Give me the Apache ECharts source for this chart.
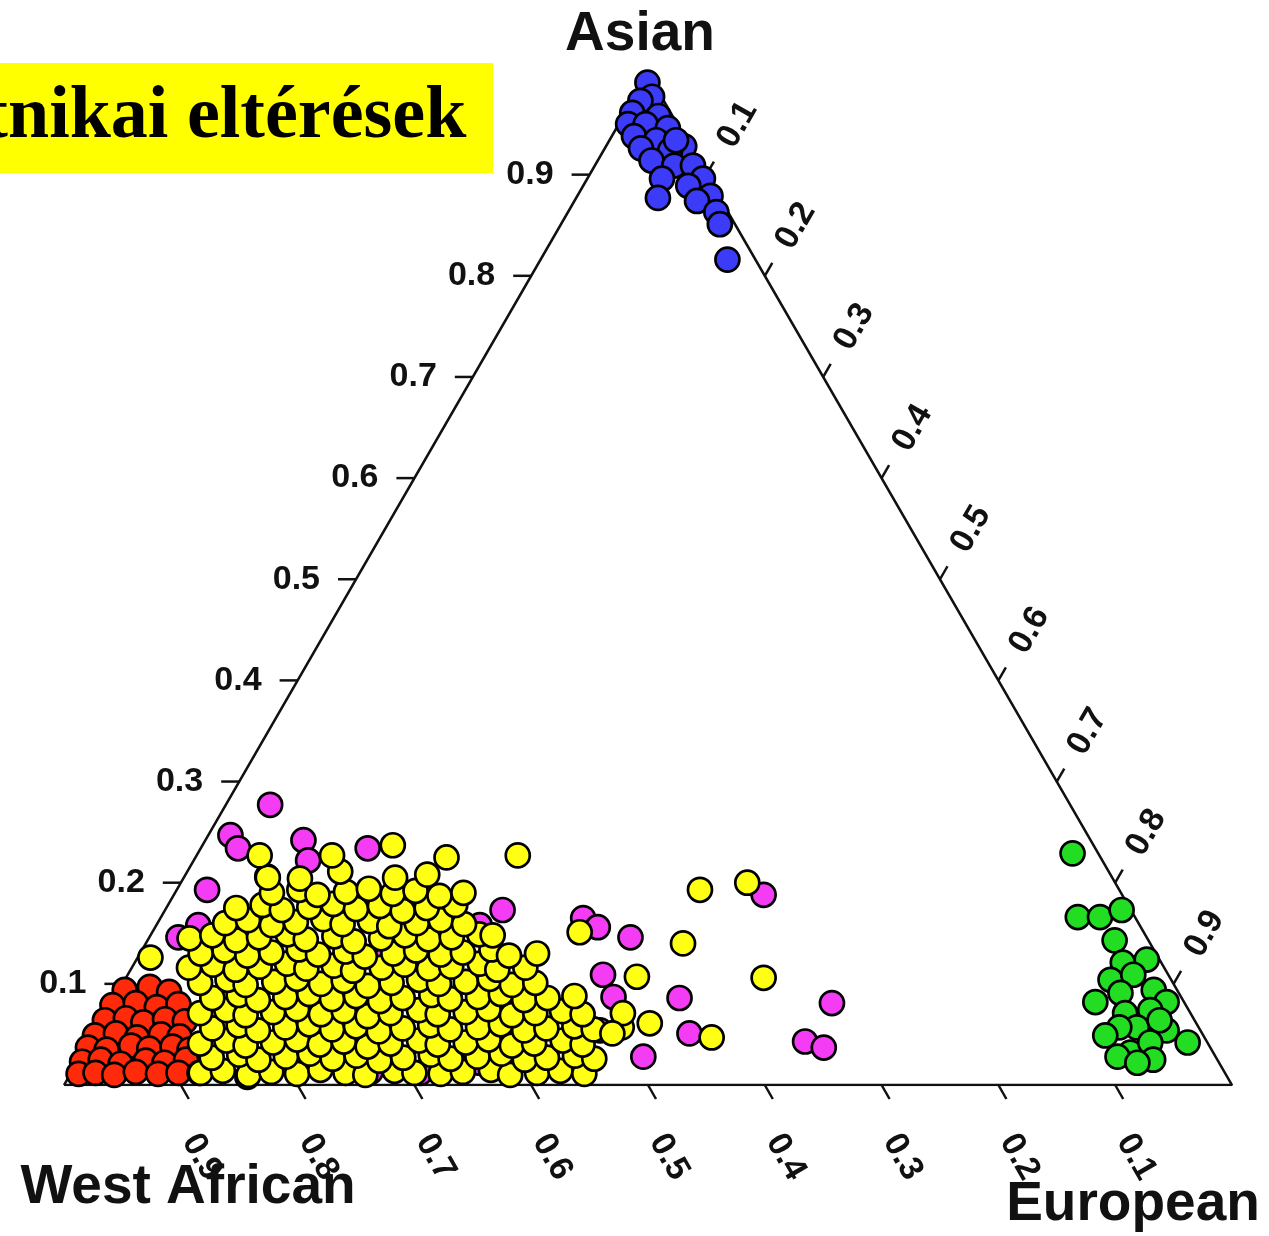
<!DOCTYPE html>
<html>
<head>
<meta charset="utf-8">
<script src="https://cdn.jsdelivr.net/npm/echarts@6/dist/echarts.min.js"></script>
<style>
  html, body { margin: 0; padding: 0; background: #ffffff; }
  #chart { width: 1269px; height: 1236px; }
</style>
</head>
<body>
<div id="chart"></div>
<script>
// Tick values on the three ternary axes
const asianTicks = [0.1, 0.2, 0.3, 0.4, 0.5, 0.6, 0.7, 0.8, 0.9];
const westAfricanTicks = [0.9, 0.8, 0.7, 0.6, 0.5, 0.4, 0.3, 0.2, 0.1];
const europeanTicks = [0.1, 0.2, 0.3, 0.4, 0.5, 0.6, 0.7, 0.8, 0.9];

// Each sample: [Asian share, European share]; the West African share is the remainder.
const blueSamples = [
  [0.991,0.004],[0.977,0.015],[0.973,0.007],[0.961,0.006],[0.958,0.030],[0.950,0.008],
  [0.950,0.023],[0.946,0.044],[0.938,0.019],[0.934,0.040],[0.926,0.031],[0.928,0.067],
  [0.924,0.057],[0.934,0.057],[0.914,0.046],[0.909,0.068],[0.909,0.084],[0.896,0.064],
  [0.896,0.099],[0.889,0.090],[0.877,0.070],[0.879,0.114],[0.874,0.105],[0.863,0.127],
  [0.851,0.136],[0.816,0.160]
];

const redSamples = [
  [0.094,0.005],[0.097,0.025],[0.092,0.044],
  [0.079,0.002],[0.081,0.021],[0.077,0.041],[0.080,0.058],
  [0.064,0.003],[0.066,0.020],[0.062,0.037],[0.065,0.054],[0.063,0.072],
  [0.049,0.002],[0.051,0.019],[0.047,0.039],[0.050,0.058],[0.048,0.075],
  [0.037,0.002],[0.035,0.019],[0.039,0.038],[0.036,0.055],[0.038,0.074],[0.035,0.090],
  [0.023,0.004],[0.025,0.019],[0.021,0.038],[0.024,0.058],[0.022,0.075],[0.025,0.092],
  [0.011,0.007],[0.012,0.021],[0.010,0.038],[0.013,0.055],[0.011,0.075],[0.012,0.092]
];

const magentaSamples = [
  [0.277,0.038],[0.247,0.019],[0.234,0.032],[0.242,0.084],[0.222,0.098],[0.206,0.071],
  [0.193,0.026],[0.158,0.036],[0.146,0.025],[0.234,0.143],[0.180,0.178],[0.185,0.201],
  [0.173,0.289],[0.158,0.277],[0.165,0.362],[0.156,0.379],[0.146,0.412],[0.109,0.407],
  [0.086,0.484],[0.087,0.427],[0.051,0.510],[0.028,0.482],[0.188,0.505],[0.081,0.617],
  [0.043,0.613],[0.037,0.632],[0.121,0.302],[0.094,0.275],[0.077,0.332],[0.054,0.432],
  [0.022,0.345],[0.018,0.328],[0.012,0.299],[0.012,0.110],[0.008,0.153],[0.013,0.256],
  [0.124,0.140],[0.084,0.194],[0.124,0.213]
];

const yellowSamples = [
  [0.012,0.111],[0.014,0.129],[0.010,0.153],[0.013,0.171],[0.011,0.194],[0.015,0.212],
  [0.012,0.235],[0.010,0.253],[0.014,0.276],[0.012,0.294],[0.011,0.317],[0.013,0.335],
  [0.015,0.358],[0.010,0.377],[0.012,0.399],[0.014,0.418],[0.011,0.440],
  [0.027,0.113],[0.030,0.135],[0.025,0.154],[0.028,0.176],[0.031,0.195],[0.026,0.217],
  [0.029,0.236],[0.024,0.258],[0.027,0.277],[0.030,0.299],[0.026,0.318],[0.028,0.340],
  [0.031,0.359],[0.025,0.382],[0.027,0.400],[0.029,0.423],[0.026,0.441],
  [0.041,0.096],[0.044,0.117],[0.039,0.136],[0.042,0.158],[0.045,0.177],[0.040,0.199],
  [0.043,0.218],[0.038,0.241],[0.041,0.259],[0.044,0.282],[0.040,0.300],[0.042,0.323],
  [0.045,0.341],[0.039,0.364],[0.041,0.382],[0.044,0.405],[0.040,0.424],
  [0.056,0.099],[0.059,0.120],[0.054,0.139],[0.057,0.161],[0.060,0.180],[0.055,0.202],
  [0.058,0.221],[0.053,0.243],[0.056,0.262],[0.059,0.284],[0.055,0.303],[0.057,0.326],
  [0.060,0.344],[0.054,0.367],[0.056,0.385],[0.058,0.408],[0.055,0.426],[0.057,0.449],
  [0.071,0.081],[0.074,0.102],[0.069,0.121],[0.072,0.143],[0.075,0.162],[0.070,0.185],
  [0.073,0.203],[0.068,0.226],[0.071,0.244],[0.074,0.267],[0.070,0.285],[0.072,0.308],
  [0.075,0.326],[0.069,0.349],[0.071,0.368],[0.073,0.390],[0.070,0.409],
  [0.086,0.084],[0.089,0.105],[0.084,0.124],[0.087,0.146],[0.090,0.165],[0.085,0.187],
  [0.088,0.206],[0.083,0.229],[0.086,0.247],[0.089,0.270],[0.085,0.288],[0.087,0.311],
  [0.090,0.329],[0.084,0.352],[0.086,0.371],[0.088,0.393],
  [0.101,0.066],[0.104,0.088],[0.099,0.106],[0.102,0.129],[0.105,0.147],[0.100,0.170],
  [0.103,0.188],[0.098,0.211],[0.101,0.230],[0.104,0.252],[0.100,0.271],[0.102,0.293],
  [0.105,0.312],[0.099,0.334],[0.101,0.353],
  [0.116,0.049],[0.119,0.068],[0.114,0.090],[0.117,0.109],[0.120,0.131],[0.115,0.150],
  [0.118,0.172],[0.113,0.191],[0.116,0.214],[0.119,0.232],[0.115,0.255],[0.117,0.273],
  [0.120,0.296],[0.114,0.314],[0.116,0.337],
  [0.126,0.011],
  [0.130,0.052],[0.133,0.071],[0.128,0.093],[0.131,0.112],[0.134,0.134],[0.129,0.153],
  [0.132,0.175],[0.127,0.194],[0.130,0.217],[0.133,0.235],[0.129,0.258],[0.131,0.276],
  [0.134,0.299],[0.128,0.317],[0.130,0.340],
  [0.145,0.035],[0.148,0.053],[0.143,0.076],[0.146,0.094],[0.149,0.117],[0.144,0.135],
  [0.147,0.158],[0.142,0.177],[0.145,0.199],[0.148,0.218],[0.144,0.240],[0.146,0.259],
  [0.149,0.281],[0.148,0.293],
  [0.160,0.058],[0.163,0.076],[0.158,0.099],[0.161,0.118],[0.164,0.140],[0.159,0.159],
  [0.162,0.181],[0.157,0.200],[0.160,0.222],[0.163,0.241],[0.159,0.263],
  [0.175,0.060],[0.178,0.081],[0.173,0.100],[0.176,0.122],[0.179,0.141],[0.174,0.163],
  [0.177,0.182],[0.172,0.204],[0.175,0.223],[0.178,0.246],
  [0.190,0.083],[0.193,0.105],[0.188,0.123],[0.191,0.146],[0.194,0.164],[0.189,0.187],
  [0.192,0.205],[0.187,0.228],[0.190,0.247],
  [0.205,0.072],[0.204,0.100],[0.211,0.131],[0.205,0.181],[0.208,0.207],
  [0.227,0.054],[0.227,0.116],[0.225,0.215],[0.237,0.163],[0.227,0.275],
  [0.193,0.448],[0.200,0.485],[0.140,0.460],[0.107,0.437],[0.106,0.546],[0.151,0.366],
  [0.071,0.443],[0.061,0.471],[0.051,0.444],[0.047,0.531]
];

const greenSamples = [
  [0.229,0.749],[0.166,0.785],[0.166,0.804],[0.173,0.819],[0.143,0.828],[0.121,0.846],
  [0.124,0.865],[0.104,0.844],[0.109,0.861],[0.082,0.842],[0.091,0.859],[0.094,0.886],
  [0.082,0.903],[0.071,0.873],[0.074,0.893],[0.057,0.890],[0.054,0.917],[0.057,0.875],
  [0.032,0.897],[0.042,0.909],[0.042,0.941],[0.028,0.888],[0.025,0.920],[0.022,0.908],
  [0.049,0.867],[0.064,0.906]
];

const H = Math.sqrt(3) / 2;
// Ternary [asian, european] -> plane position inside the equilateral triangle
function toXY(a, e) { return [e + a / 2, a * H]; }
const project = arr => arr.map(p => toXY(p[0], p[1]));

const TICK_FONT = 'bold 34px "Liberation Sans", Arial, sans-serif';
const NAME_FONT = 'bold 55px "Liberation Sans", Arial, sans-serif';

function tickSeries(ticks, edgeOf, tickVec, labelVec, rotation, align) {
  return {
    type: 'custom',
    coordinateSystem: 'cartesian2d',
    clip: false,
    silent: true,
    z: 2,
    data: ticks.map(t => [t, 0]),
    renderItem(params, api) {
      const t = api.value(0);
      const p = api.coord(edgeOf(t));
      return {
        type: 'group',
        children: [
          {
            type: 'line',
            shape: { x1: p[0], y1: p[1], x2: p[0] + tickVec[0], y2: p[1] + tickVec[1] },
            style: { stroke: '#111', lineWidth: 2.5 }
          },
          {
            type: 'text',
            x: p[0] + labelVec[0],
            y: p[1] + labelVec[1],
            rotation: rotation,
            style: {
              text: t.toFixed(1),
              font: TICK_FONT,
              fill: '#111',
              align: align,
              verticalAlign: 'middle'
            }
          }
        ]
      };
    }
  };
}

function samples(data, color) {
  return {
    type: 'scatter',
    data: project(data),
    symbol: 'circle',
    symbolSize: 24,
    itemStyle: { color: color, borderColor: '#000', borderWidth: 2.7, opacity: 1 },
    z: 3,
    silent: true
  };
}

const chart = echarts.init(document.getElementById('chart'), null, { renderer: 'canvas' });
chart.setOption({
  backgroundColor: '#ffffff',
  animation: false,
  grid: { left: 64, right: 37, top: 73.5, bottom: 151 },
  xAxis: { type: 'value', min: 0, max: 1, show: false },
  yAxis: { type: 'value', min: 0, max: H, show: false },
  series: [
    {
      type: 'line',
      data: [toXY(0, 0), toXY(1, 0), toXY(0, 1), toXY(0, 0)],
      symbol: 'none',
      lineStyle: { color: '#111', width: 2.5 },
      z: 1,
      silent: true
    },
    // Asian axis: left edge, horizontal ticks
    tickSeries(asianTicks, t => toXY(t, 0), [-18, 0], [-36, 0], 0, 'right'),
    // West African axis: base, ticks slanting down-right
    tickSeries(westAfricanTicks, t => toXY(0, 1 - t), [8, 14], [21, 72], -Math.PI / 3, 'center'),
    // European axis: right edge, ticks slanting up-right
    tickSeries(europeanTicks, t => toXY(1 - t, t), [7.5, -13], [31, -50], Math.PI / 3, 'center'),
    samples(redSamples, '#ff2a0a'),
    samples(magentaSamples, '#f53cf5'),
    samples(yellowSamples, '#ffff14'),
    samples(blueSamples, '#3c3cf8'),
    samples(greenSamples, '#22dd22')
  ],
  graphic: [
    { type: 'rect', shape: { x: 0, y: 63, width: 493, height: 110 }, style: { fill: '#ffff00' }, z: 10 },
    {
      type: 'text', x: -66, y: 118, z: 11,
      style: { text: 'Etnikai eltérések', font: 'bold 74px "Liberation Serif", "Times New Roman", serif', fill: '#000', align: 'left', verticalAlign: 'middle' }
    },
    { type: 'text', x: 640, y: 35, z: 11, style: { text: 'Asian', font: NAME_FONT, fill: '#111', align: 'center', verticalAlign: 'middle' } },
    { type: 'text', x: 188, y: 1188, z: 11, style: { text: 'West African', font: NAME_FONT, fill: '#111', align: 'center', verticalAlign: 'middle' } },
    { type: 'text', x: 1133, y: 1205, z: 11, style: { text: 'European', font: NAME_FONT, fill: '#111', align: 'center', verticalAlign: 'middle' } }
  ]
});
</script>
</body>
</html>
